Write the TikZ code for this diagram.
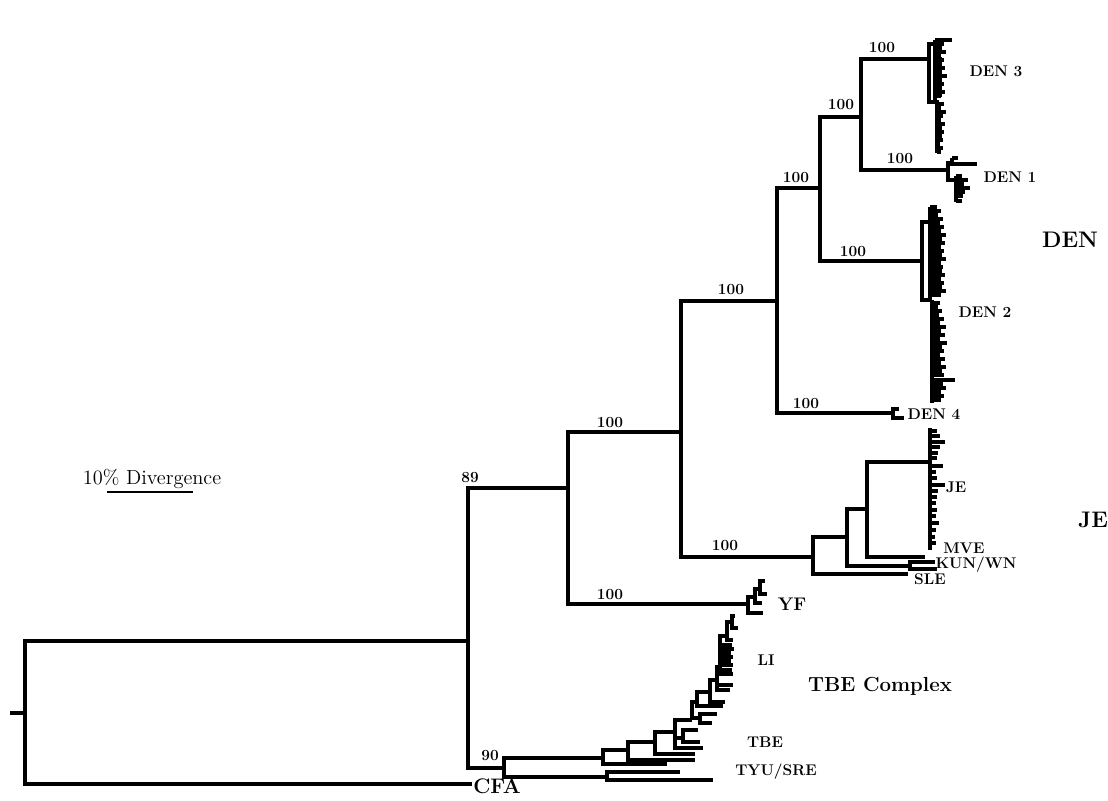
\documentclass[tikz,border=0pt]{standalone}
\usepackage{tikz}
\usetikzlibrary{calc}
\tikzset{
  branch/.style={line width=2.6pt},
  twig/.style={line width=2.3pt},
  boot/.style={font=\fontsize{11}{13}\selectfont\bfseries},
  clade/.style={font=\fontsize{11}{13}\selectfont\bfseries},
  group/.style={font=\fontsize{16}{19}\selectfont\bfseries}
}
\begin{document}
\begin{tikzpicture}[x=0.025cm,y=-0.025cm]
      \useasboundingbox (0,0) rectangle (1108,800);
      % backbone
      \coordinate (stem) at (10,713);
      \coordinate (root) at (25,713);
      \coordinate (ingrp) at (468,641);
      \coordinate (cfa) at (472,784);
      \coordinate (flavi) at (568,488);
      \coordinate (tbe) at (504,768);
      \coordinate (mosq) at (681,432);
      \coordinate (yf) at (748,604);
      \coordinate (den) at (777,301);
      \coordinate (je) at (813,557);
      \coordinate (denA) at (820,188);
      \coordinate (den4) at (893,413);
      \coordinate (denB) at (861,117);
      \coordinate (den2) at (922,261);
      \coordinate (den3) at (929,59);
      \coordinate (den1) at (948,170);
      \draw[branch] (stem) -- (root);
      \draw[branch] (root) |- (ingrp);
      \draw[branch] (root) |- (cfa);
      \draw[branch] (ingrp) |- (flavi);
      \draw[branch] (ingrp) |- (tbe);
      \draw[branch] (flavi) |- (mosq);
      \draw[branch] (flavi) |- (yf);
      \draw[branch] (mosq) |- (den);
      \draw[branch] (mosq) |- (je);
      \draw[branch] (den) |- (denA);
      \draw[branch] (den) |- (den4);
      \draw[branch] (denA) |- (denB);
      \draw[branch] (denA) |- (den2);
      \draw[branch] (denB) |- (den3);
      \draw[branch] (denB) |- (den1);
      % DEN 3
      \coordinate (d3u) at (935,44);
      \coordinate (d3l) at (937,102);
      \draw[twig] (den3) |- (d3u);
      \draw[twig] (den3) |- (d3l);
      \draw[twig] (935,40) -- (935,100);
      \draw[twig] (940,57) -- (940,97);
      \foreach \y/\e in {40/952,44/944,48/942,52/946,56/941,60/944,64/942,68/945,72/942,76/947,80/942,84/944,88/942,92/945,96/941}
        \draw[twig] (935,\y) -- (\e,\y);
      \draw[branch] (937,100) -- (937,153);
      \foreach \y/\e in {104/944,108/941,112/946,116/943,120/941,124/945,128/942,132/944,136/942,140/943,144/940,148/943,152/941}
        \draw[twig] (937,\y) -- (\e,\y);
      % DEN 1
      \coordinate (d1u) at (952,163);
      \coordinate (d1l) at (956,180);
      \draw[twig] (den1) |- (d1u);
      \draw[twig] (den1) |- (d1l);
      \draw[twig] (952,158) -- (952,166);
      \draw[twig] (952,158) -- (958,158);
      \draw[twig] (952,164) -- (977,164);
      \draw[twig] (956,176) -- (956,202);
      \foreach \y/\e in {176/962,180/968,184/964,188/970,192/965,196/963,201/962}
        \draw[twig] (956,\y) -- (\e,\y);
      % DEN 2
      \coordinate (d2u) at (930,222);
      \coordinate (d2l) at (932,300);
      \draw[branch] (den2) |- (d2u);
      \draw[branch] (den2) |- (d2l);
      \draw[twig] (930,207) -- (930,298);
      \draw[twig] (935,225) -- (935,295);
      \foreach \y/\e in {207/937,211/941,215/938,219/943,223/940,227/944,231/941,235/946,239/942,243/945,247/941,251/944,255/942,259/946,263/941,267/943,271/942,275/945,279/941,283/944,287/942,291/946,295/941}
        \draw[twig] (930,\y) -- (\e,\y);
      \draw[branch] (932,300) -- (932,403);
      \foreach \y/\e in {303/940,307/938,311/942,315/939,319/944,323/940,327/946,331/941,335/945,339/940,343/947,347/942,351/944,355/940,359/945,363/941,367/946,371/942,375/944,380/955,384/943,388/946,392/941,396/944,400/941}
        \draw[twig] (932,\y) -- (\e,\y);
      % DEN 4
      \coordinate (d4u) at (899,409);
      \coordinate (d4l) at (904,418);
      \draw[twig] (den4) |- (d4u);
      \draw[twig] (den4) |- (d4l);
      % JE group
      \coordinate (je1) at (847,537);
      \coordinate (sle) at (908,574);
      \coordinate (je2) at (867,509);
      \coordinate (kun) at (910,566);
      \coordinate (jev) at (930,462);
      \coordinate (mve) at (925,557);
      \draw[branch] (je) |- (je1);
      \draw[branch] (je) |- (sle);
      \draw[branch] (je1) |- (je2);
      \draw[branch] (je1) |- (kun);
      \draw[branch] (je2) |- (jev);
      \draw[branch] (je2) |- (mve);
      \draw[twig] (kun) |- (935,562);
      \draw[twig] (kun) |- (937,569);
      \draw[branch] (930,428) -- (930,550);
      \foreach \y/\e in {431/937,436/940,442/945,447/940,453/938,458/937,466/943,472/936,478/937,485/945,491/938,497/937,503/936,510/937,516/936,523/939,530/936,537/935,543/936}
        \draw[twig] (930,\y) -- (\e,\y);
      % YF
      \coordinate (yf1) at (755,597);
      \coordinate (yf2) at (760,589);
      \draw[twig] (yf) |- (yf1);
      \draw[twig] (yf) |- (763,613);
      \draw[twig] (yf1) |- (yf2);
      \draw[twig] (yf1) |- (762,603);
      \draw[twig] (yf2) |- (765,581);
      \draw[twig] (yf2) |- (767,594);
      % TBE complex
      \coordinate (tyu) at (607,777);
      \coordinate (t1) at (603,758);
      \coordinate (t2) at (628,750);
      \coordinate (t3) at (655,742);
      \coordinate (t4) at (675,732);
      \coordinate (t4c) at (683,738);
      \coordinate (t5) at (692,720);
      \coordinate (t5c) at (700,718);
      \coordinate (t6) at (697,702);
      \coordinate (t7) at (710,692);
      \coordinate (t8) at (717,680);
      \coordinate (t9) at (720,667);
      \coordinate (t10) at (727,636);
      \coordinate (t11) at (732,622);
      \draw[branch] (tbe) |- (t1);
      \draw[branch] (tbe) |- (tyu);
      \draw[twig] (tyu) |- (680,772);
      \draw[twig] (tyu) |- (713,780);
      \draw[twig] (t1) |- (t2);
      \draw[twig] (t1) |- (667,764);
      \draw[twig] (t2) |- (t3);
      \draw[twig] (t2) |- (695,760);
      \draw[twig] (t3) |- (t4);
      \draw[twig] (t3) |- (695,754);
      \draw[twig] (t4) |- (t5);
      \draw[twig] (t4) |- (t4c);
      \draw[twig] (t4) |- (703,748);
      \draw[twig] (t4c) |- (698,730);
      \draw[twig] (t4c) |- (700,742);
      \draw[twig] (t5) |- (t6);
      \draw[twig] (t5) |- (t5c);
      \draw[twig] (t5c) |- (717,714);
      \draw[twig] (t5c) |- (712,723);
      \draw[twig] (t6) |- (t7);
      \draw[twig] (t6) |- (723,706);
      \draw[twig] (t7) |- (t8);
      \draw[twig] (t7) |- (725,702);
      \draw[twig] (t8) |- (t9);
      \draw[twig] (t8) |- (733,685);
      \draw[twig] (t8) |- (730,690);
      \draw[twig] (t9) |- (t10);
      \foreach \y/\e in {645/732,649/734,653/731,657/733,661/731,665/733,670/732,674/733}
        \draw[twig] (t9) |- (\e,\y);
      \draw[twig] (t10) |- (t11);
      \draw[twig] (t10) |- (733,640);
      \draw[twig] (t11) |- (735,616);
      \draw[twig] (t11) |- (738,628);
      % support values
      \node[boot] at (470,478) {89};
      \node[boot] at (490,756) {90};
      \node[boot] at (610,423) {100};
      \node[boot] at (610,595) {100};
      \node[boot] at (731,290) {100};
      \node[boot] at (725,546) {100};
      \node[boot] at (796,178) {100};
      \node[boot] at (806,404) {100};
      \node[boot] at (841,105) {100};
      \node[boot] at (853,252) {100};
      \node[boot] at (882,48) {100};
      \node[boot] at (900,159) {100};
      % labels
      \node[clade] at (996,71) {DEN 3};
      \node[clade] at (1010,177) {DEN 1};
      \node[clade] at (985,312) {DEN 2};
      \node[clade] at (934,414) {DEN 4};
      \node[clade] at (956,487) {JE};
      \node[clade] at (964,548) {MVE};
      \node[clade] at (976,565) {KUN/WN};
      \node[clade] at (930,579) {SLE};
      \node[clade] at (766,660) {LI};
      \node[clade] at (765,742) {TBE};
      \node[clade] at (776,772) {TYU/SRE};
      \node[font=\fontsize{13}{15}\selectfont\bfseries] at (792,604) {YF};
      \node[group] at (1070,240) {DEN};
      \node[group] at (1093,520) {JE};
      \node[font=\fontsize{14.5}{17}\selectfont\bfseries] at (880,686) {TBE Complex};
      \node[font=\fontsize{15}{18}\selectfont\bfseries] at (497,786) {CFA};
      \node[font=\fontsize{14.5}{17}\selectfont] at (152,479) {10\% Divergence};
      \draw[line width=1.5pt] (107,492) -- (193,492);
    \end{tikzpicture}
\end{document}
